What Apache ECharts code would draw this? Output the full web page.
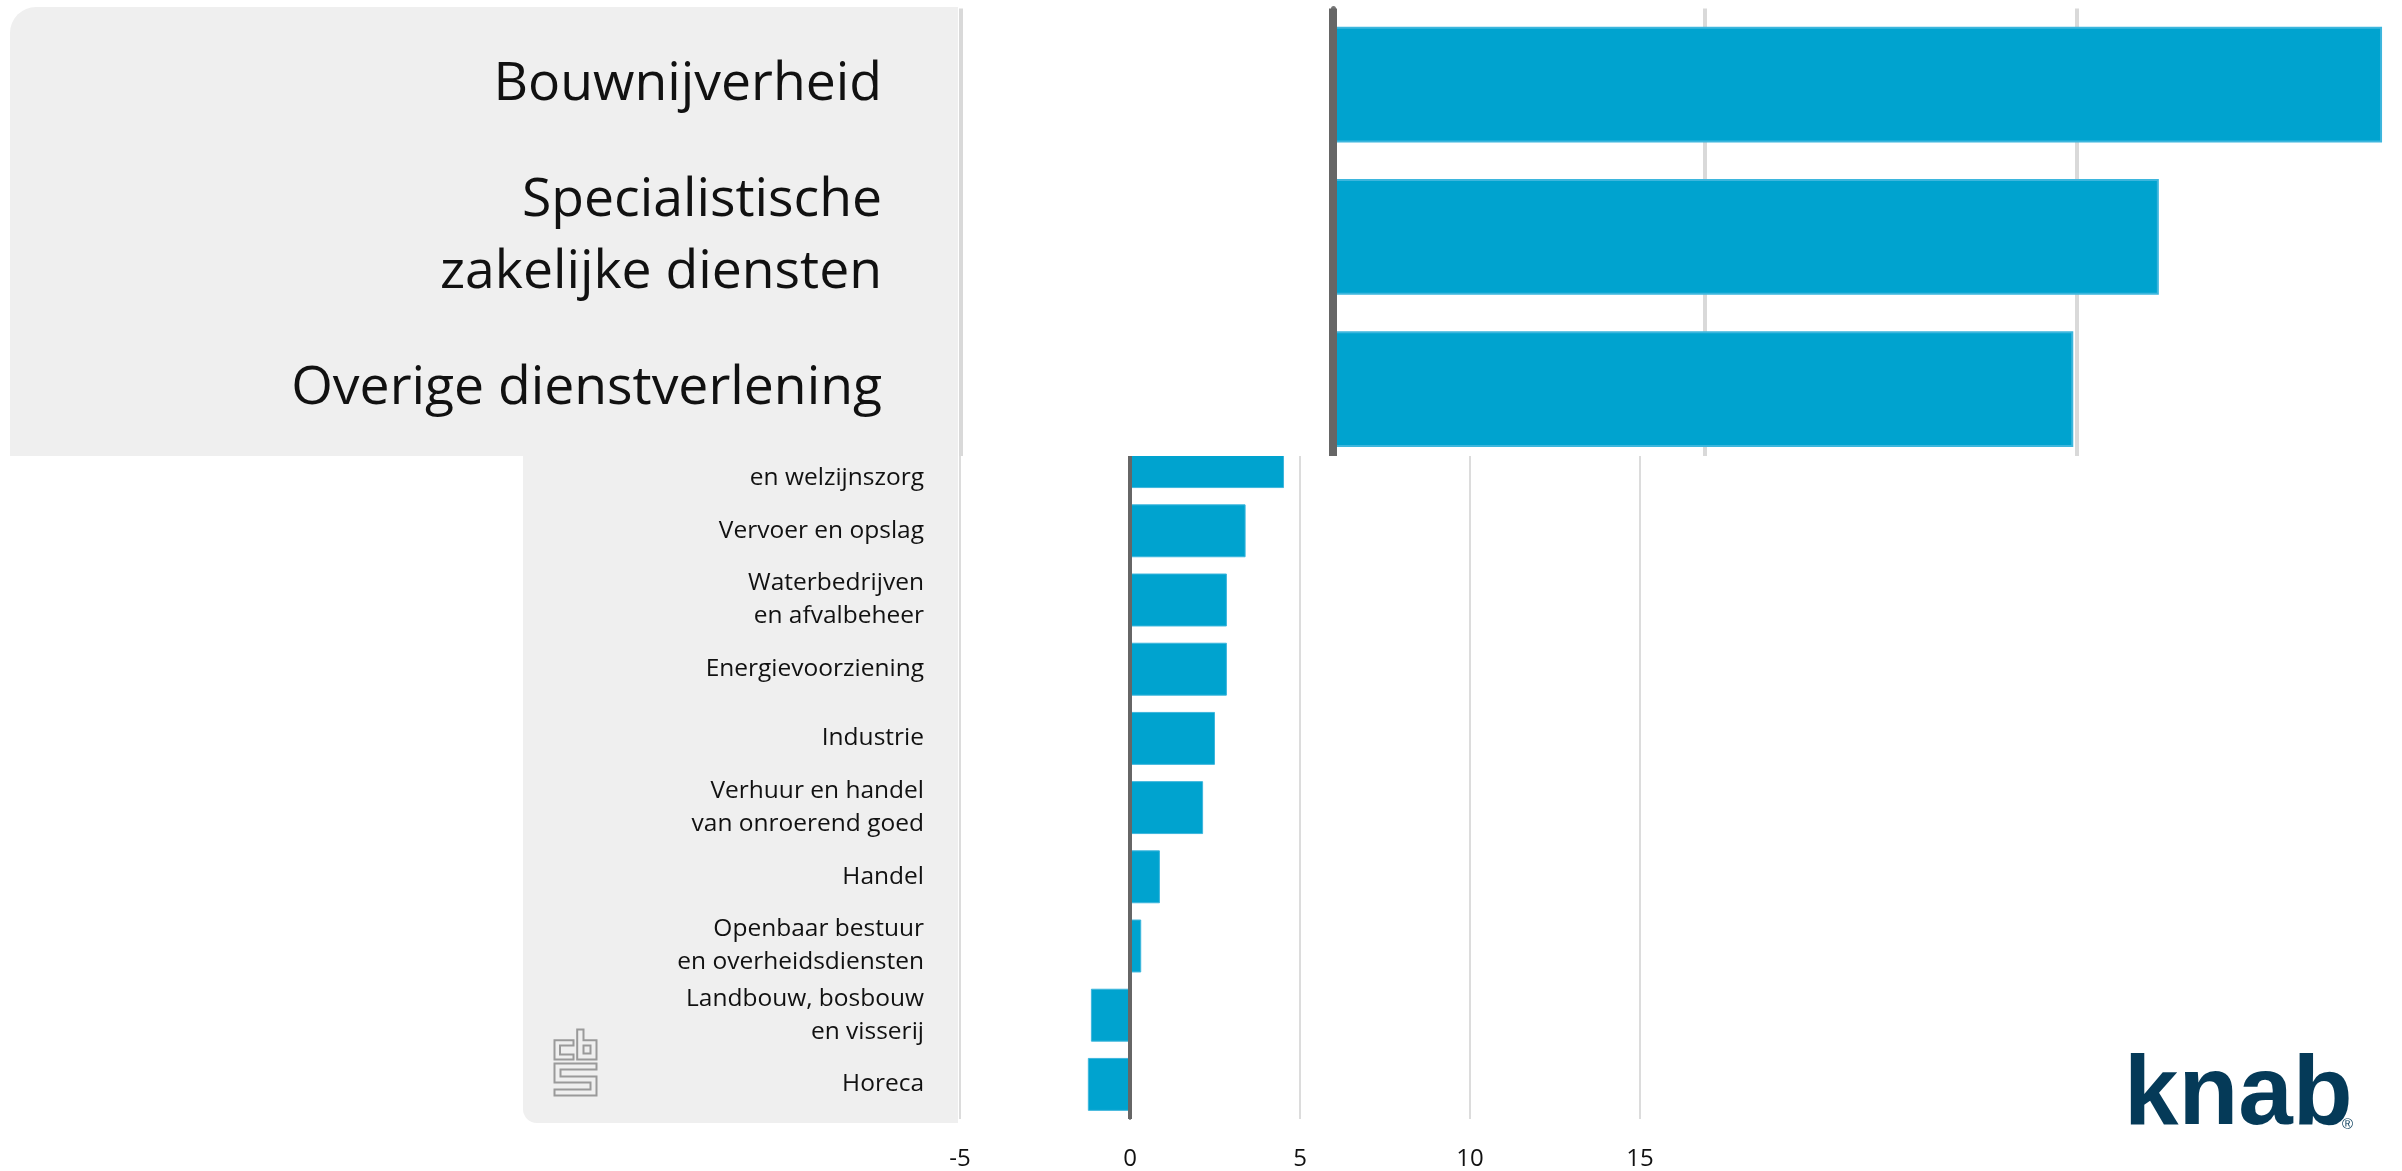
<!DOCTYPE html>
<html>
<head>
<meta charset="utf-8">
<script src="https://cdn.jsdelivr.net/npm/echarts@6/dist/echarts.min.js"></script>
<style>
  html, body { margin: 0; padding: 0; background: #fff; overflow: hidden; width: 2402px; height: 1171px; }
  #main { position: absolute; left: 0; top: 0; width: 2402px; height: 1171px; }
  #zoomWrap { position: absolute; left: 0; top: 0; width: 2402px; height: 456px; overflow: hidden; background: #fff; }
  #zoom { position: absolute; left: 0; top: 0; width: 2480px; height: 480px; }
</style>
</head>
<body>
<div id="main"></div>
<div id="zoomWrap"><div id="zoom"></div></div>
<script>
// uitvergroot stuk (bovenste drie sectoren)
const zoomCategories = ['Bouwnijverheid', 'Specialistische\nzakelijke diensten', 'Overige dienstverlening']
const zoomValues = [14.1, 11.1, 9.95]

// rest van de grafiek
const categories = [
  'Gezondheids-\nen welzijnszorg',
  'Vervoer en opslag',
  'Waterbedrijven\nen afvalbeheer',
  'Energievoorziening',
  'Industrie',
  'Verhuur en handel\nvan onroerend goed',
  'Handel',
  'Openbaar bestuur\nen overheidsdiensten',
  'Landbouw, bosbouw\nen visserij',
  'Horeca'
]
const values = [4.53, 3.4, 2.85, 2.85, 2.5, 2.15, 0.88, 0.33, -1.15, -1.24]

const xMin = -5
const xMax = 15
const xStep = 5

const barColor = '#00a3cf'
const textColor = '#111'
const font = '"Open Sans", "Noto Sans", sans-serif'

const mainOption = {
  animation: false,
  graphic: [
    {
      type: 'rect',
      z: -10,
      shape: { x: 523, y: 400, width: 435, height: 723, r: [0, 0, 0, 14] },
      style: { fill: '#efefef' }
    },
    // cbs logo
    {
      type: 'group',
      left: 552,
      top: 1027,
      z: -5,
      children: [
        { type: 'polygon', shape: { points: [[19, 10.7], [0, 10.7], [0, 30], [19, 30], [19, 25], [5.5, 25], [5.5, 16], [19, 16]] }, style: { fill: 'none', stroke: '#9a9a9a', lineWidth: 2 } },
        { type: 'polygon', shape: { points: [[22.7, 0], [29, 0], [29, 10.7], [42, 10.7], [42, 30], [22.7, 30]] }, style: { fill: 'none', stroke: '#9a9a9a', lineWidth: 2 } },
        { type: 'rect', shape: { x: 29, y: 16, width: 7, height: 8 }, style: { fill: 'none', stroke: '#9a9a9a', lineWidth: 2 } },
        { type: 'polygon', shape: { points: [[0, 34], [42, 34], [42, 40], [6, 40], [6, 47], [42, 47], [42, 66], [0, 66], [0, 60], [36, 60], [36, 53], [0, 53]] }, style: { fill: 'none', stroke: '#9a9a9a', lineWidth: 2 } }
      ]
    },
    // knab logo
    {
      type: 'text',
      left: 2124,
      top: 1048,
      style: {
        text: 'knab',
        fill: '#053a58',
        font: 'bold 98px "Liberation Sans", Arial, sans-serif'
      }
    },
    {
      type: 'text',
      left: 2342,
      top: 1117,
      style: {
        text: '®',
        fill: '#053a58',
        font: '15px "Liberation Sans", Arial, sans-serif'
      }
    }
  ],
  grid: {
    left: 960,
    top: 427,
    width: 680,
    height: 698,
    containLabel: false
  },
  xAxis: {
    type: 'value',
    min: xMin,
    max: xMax,
    interval: xStep,
    axisLine: { show: false },
    axisTick: { show: false },
    axisLabel: { color: textColor, fontSize: 24, fontFamily: font, margin: 28 },
    splitLine: { lineStyle: { color: '#dcdcdc', width: 2 } }
  },
  yAxis: {
    type: 'category',
    inverse: true,
    data: categories,
    axisLine: { lineStyle: { color: '#777', width: 2 } },
    axisTick: { show: false },
    axisLabel: { color: textColor, fontSize: 24.5, lineHeight: 33, fontFamily: font, margin: 36, align: 'right' }
  },
  series: [
    {
      type: 'bar',
      data: values,
      barCategoryGap: '23.5%',
      itemStyle: { color: barColor, borderColor: '#3db6dd', borderWidth: 1 },
      markLine: {
        silent: true,
        symbol: ['none', 'none'],
        label: { show: false },
        lineStyle: { color: '#666', width: 4, type: 'solid' },
        data: [{ xAxis: 0 }]
      }
    }
  ]
}

const zoomOption = {
  animation: false,
  graphic: [
    {
      type: 'rect',
      z: -10,
      shape: { x: 10, y: 7, width: 948, height: 480, r: [26, 0, 0, 0] },
      style: { fill: '#efefef' }
    }
  ],
  grid: {
    left: 961,
    top: 8.5,
    width: 1488,
    height: 456.75,
    containLabel: false
  },
  xAxis: {
    type: 'value',
    min: xMin,
    max: xMax,
    interval: xStep,
    axisLine: { show: false },
    axisTick: { show: false },
    axisLabel: { show: false },
    splitLine: { lineStyle: { color: '#d9d9d9', width: 4 } }
  },
  yAxis: {
    type: 'category',
    inverse: true,
    data: zoomCategories,
    axisLine: { lineStyle: { color: '#777', width: 5 } },
    axisTick: { show: false },
    axisLabel: { color: textColor, fontSize: 53.5, lineHeight: 72, fontFamily: font, margin: 79, align: 'right' }
  },
  series: [
    {
      type: 'bar',
      data: zoomValues,
      barCategoryGap: '24%',
      itemStyle: { color: barColor, borderColor: '#3db6dd', borderWidth: 2 },
      markLine: {
        silent: true,
        symbol: ['none', 'none'],
        label: { show: false },
        lineStyle: { color: '#666', width: 8, type: 'solid' },
        data: [{ xAxis: 0 }]
      }
    }
  ]
}

const mainChart = echarts.init(document.getElementById('main'))
mainChart.setOption(mainOption)
const zoomChart = echarts.init(document.getElementById('zoom'))
zoomChart.setOption(zoomOption)
</script>
</body>
</html>
